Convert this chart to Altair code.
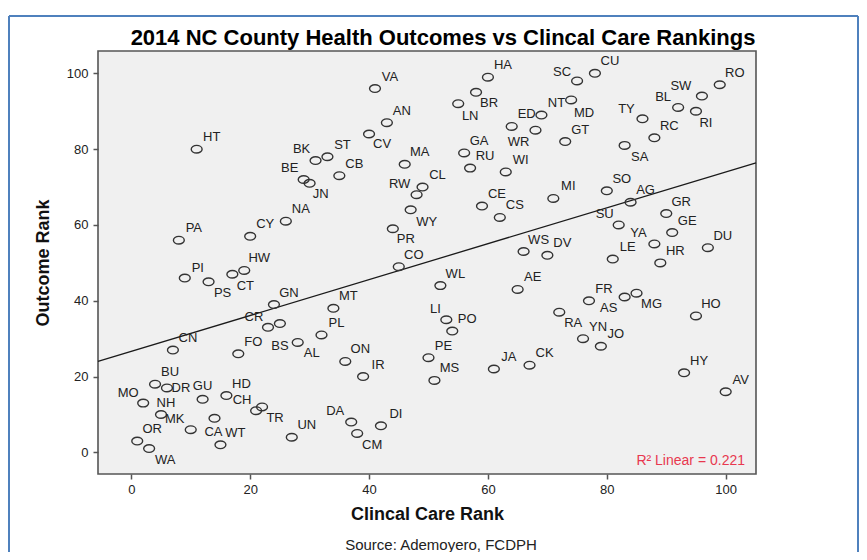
import altair as alt
import pandas as pd

# ---------------- data ----------------
names = ["HT", "BK", "ST", "BE", "JN", "CB", "CV", "AN", "VA", "MA",
         "CL", "RW", "WY", "PR", "CO", "HA", "BR", "LN", "GA", "RU",
         "WI", "ED", "WR", "NT", "MD", "SC", "CU", "GT", "TY", "RC",
         "SA", "BL", "SW", "RO", "RI", "SO", "MI", "AG", "GR", "GE",
         "SU", "YA", "LE", "HR", "DU", "WS", "DV", "CE", "CS", "AE",
         "FR", "AS", "MG", "HO", "RA", "YN", "JO", "CK", "JA", "HY",
         "AV", "WL", "MT", "PL", "LI", "PO", "ON", "IR", "AL", "PE",
         "MS", "DA", "CM", "DI", "UN", "CN", "FO", "BS", "CR", "GN",
         "BU", "DR", "GU", "MO", "NH", "MK", "OR", "WA", "HD", "CH",
         "TR", "CA", "WT", "PA", "PI", "PS", "CT", "HW", "CY", "NA"]
clinical_rank = [11, 31, 33, 29, 30, 35, 40, 43, 41, 46,
                 49, 48, 47, 44, 45, 60, 58, 55, 56, 57,
                 63, 64, 68, 69, 74, 75, 78, 73, 86, 88,
                 83, 92, 96, 99, 95, 80, 71, 84, 90, 91,
                 82, 88, 81, 89, 97, 66, 70, 59, 62, 65,
                 77, 83, 85, 95, 72, 76, 79, 67, 61, 93,
                 100, 52, 34, 32, 53, 54, 36, 39, 28, 50,
                 51, 37, 38, 42, 27, 7, 18, 25, 23, 24,
                 4, 6, 12, 2, 5, 10, 1, 3, 16, 21,
                 22, 14, 15, 8, 9, 13, 17, 19, 20, 26]
outcome_rank = [80, 77, 78, 72, 71, 73, 84, 87, 96, 76,
                70, 68, 64, 59, 49, 99, 95, 92, 79, 75,
                74, 86, 85, 89, 93, 98, 100, 82, 88, 83,
                81, 91, 94, 97, 90, 69, 67, 66, 63, 58,
                60, 55, 51, 50, 54, 53, 52, 65, 62, 43,
                40, 41, 42, 36, 37, 30, 28, 23, 22, 21,
                16, 44, 38, 31, 35, 32, 24, 20, 29, 25,
                19, 8, 5, 7, 4, 27, 26, 34, 33, 39,
                18, 17, 14, 13, 10, 6, 3, 1, 15, 11,
                12, 9, 2, 56, 46, 45, 47, 48, 57, 61]

axis_ticks = [0, 20, 40, 60, 80, 100]
title_text = "2014 NC County Health Outcomes vs Clincal Care Rankings"
x_title = "Clincal Care Rank"
y_title = "Outcome Rank"
source_text = "Source: Ademoyero, FCDPH"
r2_text = "R\u00b2 Linear = 0.221"

df = pd.DataFrame({"name": names, "cc": clinical_rank, "ho": outcome_rank})

# ---------------- layout / style ----------------
FONT = "Liberation Sans"
W, H = 658, 423
X_DOMAIN = [-5.6, 105.1]
Y_DOMAIN = [-5.7, 105.9]
ELLIPSE = "M-1,0A1,0.7,0,1,1,1,0A1,0.7,0,1,1,-1,0Z"

# label placement (pixel offsets from the point), default upper-right
DEFAULT_OFF = (15, -12)
LABEL_OFFSETS = {
    "BK": (-14, -12), "BE": (-14, -11), "JN": (11, 11), "CV": (13, 10),
    "RW": (-17, -11), "WY": (16, 12), "PR": (13, 10), "BR": (13, 11),
    "LN": (12, 12), "WR": (-17, 12), "MD": (13, 13), "SC": (-15, -9),
    "TY": (-16, -10), "SA": (15, 12), "BL": (-15, -10), "SW": (-21, -10),
    "RI": (10, 12), "SU": (-14, -11), "YA": (-16, -11), "AS": (-16, 11),
    "MG": (15, 11), "RA": (14, 11), "LI": (-11, -11), "AL": (14, 11),
    "DA": (-16, -11), "CM": (15, 12), "BS": (0, 22), "CR": (-14, -10),
    "DR": (14, 0), "GU": (0, -13), "MO": (-15, -10), "NH": (5, -11),
    "MK": (-16, -11), "WA": (16, 11), "CH": (-14, -11), "TR": (13, 11),
    "CA": (-1, 14), "PS": (14, 11), "CT": (13, 12), "PI": (13, -10),
}

xs = alt.Scale(domain=X_DOMAIN, nice=False, zero=False)
ys = alt.Scale(domain=Y_DOMAIN, nice=False, zero=False)

base = alt.Chart(df)

points = base.mark_point(
    shape=ELLIPSE, size=118, filled=False, color="#333333",
    strokeWidth=1.4, opacity=1
).encode(
    x=alt.X("cc:Q", scale=xs,
            axis=alt.Axis(values=axis_ticks, title=x_title, labelPadding=4,
                          titlePadding=9)),
    y=alt.Y("ho:Q", scale=ys,
            axis=alt.Axis(values=axis_ticks, title=y_title, labelPadding=5,
                          titlePadding=14)),
)

reg = base.transform_regression(
    "cc", "ho", extent=X_DOMAIN
).mark_line(color="#1a1a1a", strokeWidth=1.3).encode(
    x=alt.X("cc:Q", scale=xs), y=alt.Y("ho:Q", scale=ys)
)

groups = {}
for n in names:
    groups.setdefault(LABEL_OFFSETS.get(n, DEFAULT_OFF), []).append(n)

label_layers = []
for (dx, dy), grp in groups.items():
    label_layers.append(
        base.transform_filter(
            alt.FieldOneOfPredicate(field="name", oneOf=grp)
        ).mark_text(
            dx=dx, dy=dy, font=FONT, fontSize=13, color="#222222",
            align="center", baseline="middle"
        ).encode(x=alt.X("cc:Q", scale=xs), y=alt.Y("ho:Q", scale=ys),
                 text="name:N")
    )

one = pd.DataFrame({"t": [0]})


def note(text, x, y, **kw):
    return alt.Chart(pd.DataFrame({"t": [text]})).mark_text(
        font=FONT, baseline="middle", **kw
    ).encode(x=alt.value(x), y=alt.value(y), text="t:N")


title = note(title_text, 345, -13, fontSize=22, fontWeight="bold",
             color="#000000", align="center")
source = note(source_text, 343, 494, fontSize=15, color="#222222",
              align="center")
r2 = note(r2_text, 647, 410, fontSize=14, color="#e8384f", align="right")

border_top = alt.Chart(one).mark_rule(color="#4f81bd", strokeWidth=2).encode(
    x=alt.value(-89), x2=alt.value(760), y=alt.value(-35))
border_left = alt.Chart(one).mark_rule(color="#4f81bd", strokeWidth=2).encode(
    x=alt.value(-89), y=alt.value(-35), y2=alt.value(520))
border_right = alt.Chart(one).mark_rule(color="#4f81bd", strokeWidth=2).encode(
    x=alt.value(760), y=alt.value(-35), y2=alt.value(520))

chart = alt.layer(
    reg, points, *label_layers, title, source, r2,
    border_top, border_left, border_right
).properties(
    width=W, height=H,
    padding={"left": 90, "top": 43, "right": 103, "bottom": 78},
    autosize=alt.AutoSizeParams(type="none"),
).configure_view(
    fill="#f0f0f0", stroke="#555555", strokeWidth=1.6
).configure_axis(
    labelFont=FONT, labelFontSize=13, labelColor="#222222",
    titleFont=FONT, titleFontSize=18, titleFontWeight="bold",
    titleColor="#111111", tickColor="#555555", tickSize=5, tickWidth=1.5,
    domain=False, grid=False
)

chart.save("out.html", embed_options={"renderer": "svg", "actions": False})
